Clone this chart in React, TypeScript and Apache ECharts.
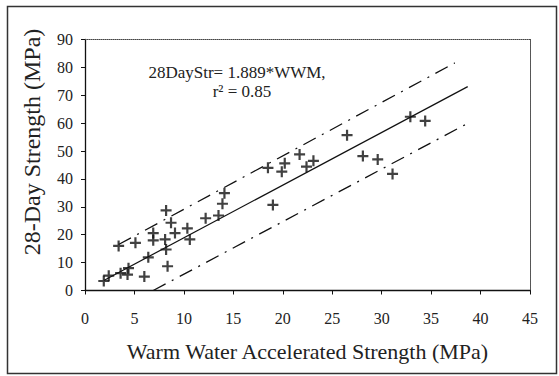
import React, { useEffect, useRef } from "react";
import * as echarts from "echarts";

// Measured data points (Warm Water Accelerated Strength, 28-Day Strength), MPa
const pointsX = [1.9, 2.4, 3.6, 4.3, 4.4, 6.0, 6.4, 3.4, 5.1, 6.9, 6.9, 8.2, 8.1, 8.2, 8.35, 8.7, 9.1, 10.35, 10.6, 12.2, 13.5, 13.9, 14.1, 19.0, 18.5, 19.9, 20.2, 21.7, 22.4, 23.1, 26.5, 28.1, 29.6, 31.1, 32.9, 34.4];
const pointsY = [3.4, 5.3, 6.2, 5.7, 8.0, 5.0, 11.9, 16.0, 17.1, 20.6, 18.0, 28.7, 18.3, 14.7, 8.7, 24.3, 20.6, 22.3, 18.3, 25.9, 26.9, 31.1, 34.9, 30.7, 44.0, 42.6, 45.6, 48.8, 44.4, 46.5, 55.7, 48.2, 47.0, 41.8, 62.3, 60.8];

// Line end points
const fitLine = [[1.9, 3.6], [38.7, 73.1]];
const upperLine = [[3.4, 16.5], [37.4, 81.6]];
const lowerLine = [[6.9, 0.0], [39.0, 60.5]];

const xTicks = { min: 0, max: 45, interval: 5 };
const yTicks = { min: 0, max: 90, interval: 10 };

const xTitle = "Warm Water Accelerated Strength (MPa)";
const yTitle = "28-Day Strength (MPa)";
const eqLine1 = "28DayStr= 1.889*WWM,";
const eqLine2 = "r\u00B2 = 0.85";

const FONT = "Liberation Serif, DejaVu Serif, serif";
const PLUS = "path://M4,0H6V4H10V6H6V10H4V6H0V4H4Z";

export default function App() {
  const ref = useRef<HTMLDivElement>(null);
  useEffect(() => {
    if (!ref.current) return;
    const chart = echarts.init(ref.current, undefined, { renderer: "svg" });
    const pts = pointsX.map((x, i) => [x, pointsY[i]]);
    chart.setOption({
      animation: false,
      backgroundColor: "#fff",
      textStyle: { fontFamily: FONT },
      grid: { left: 85, right: 29, top: 39.5, bottom: 85.5, containLabel: false },
      xAxis: [
        {
          type: "value",
          min: xTicks.min,
          max: xTicks.max,
          interval: xTicks.interval,
          position: "bottom",
          axisLine: { show: true, onZero: false, lineStyle: { color: "#111", width: 1.3 } },
          axisTick: { show: true, length: 4, lineStyle: { color: "#111" } },
          axisLabel: { margin: 20, fontSize: 16, color: "#222", fontFamily: FONT },
          splitLine: { show: false },
          name: xTitle,
          nameLocation: "middle",
          nameGap: 50,
          nameTextStyle: { fontSize: 22, color: "#222", fontFamily: FONT },
        },
        {
          type: "value",
          min: xTicks.min,
          max: xTicks.max,
          position: "top",
          axisLine: { show: true, onZero: false, lineStyle: { color: "#444", width: 1, type: "dotted" } },
          axisTick: { show: false },
          axisLabel: { show: false },
          splitLine: { show: false },
        },
      ],
      yAxis: [
        {
          type: "value",
          min: yTicks.min,
          max: yTicks.max,
          interval: yTicks.interval,
          position: "left",
          axisLine: { show: true, onZero: false, lineStyle: { color: "#111", width: 1.3 } },
          axisTick: { show: true, length: 4, lineStyle: { color: "#111" } },
          axisLabel: { margin: 12, fontSize: 16, color: "#222", fontFamily: FONT },
          splitLine: { show: false },
        },
        {
          type: "value",
          min: yTicks.min,
          max: yTicks.max,
          position: "right",
          axisLine: { show: true, onZero: false, lineStyle: { color: "#444", width: 1, type: "dotted" } },
          axisTick: { show: false },
          axisLabel: { show: false },
          splitLine: { show: false },
        },
      ],
      graphic: [
        {
          type: "rect",
          shape: { x: 7.5, y: 6.5, width: 549, height: 367 },
          style: { fill: "none", stroke: "#333", lineWidth: 1.5 },
          silent: true,
        },
        {
          type: "text",
          x: 32,
          y: 142,
          rotation: Math.PI / 2,
          style: {
            text: yTitle,
            fontSize: 24,
            fontFamily: FONT,
            fill: "#222",
            textAlign: "center",
            textVerticalAlign: "middle",
          },
        },
        {
          type: "text",
          x: 237,
          y: 72,
          style: {
            text: eqLine1,
            fontSize: 17,
            fontFamily: FONT,
            fill: "#222",
            textAlign: "center",
            textVerticalAlign: "middle",
          },
        },
        {
          type: "text",
          x: 242,
          y: 91,
          style: {
            text: eqLine2,
            fontSize: 17,
            fontFamily: FONT,
            fill: "#222",
            textAlign: "center",
            textVerticalAlign: "middle",
          },
        },
      ],
      series: [
        {
          type: "line",
          data: upperLine,
          showSymbol: false,
          symbol: "none",
          lineStyle: { color: "#111", width: 1.3, type: [14, 7, 2, 7] },
          silent: true,
        },
        {
          type: "line",
          data: lowerLine,
          showSymbol: false,
          symbol: "none",
          lineStyle: { color: "#111", width: 1.3, type: [14, 7, 2, 7] },
          silent: true,
        },
        {
          type: "line",
          data: fitLine,
          showSymbol: false,
          symbol: "none",
          lineStyle: { color: "#111", width: 1.2, type: "solid" },
          silent: true,
        },
        {
          type: "scatter",
          data: pts,
          symbol: PLUS,
          symbolSize: 11,
          itemStyle: { color: "#111" },
        },
      ],
    });
    return () => chart.dispose();
  }, []);
  return <div ref={ref} style={{ width: 559, height: 376, position: "absolute", left: 0, top: 0 }} />;
}
